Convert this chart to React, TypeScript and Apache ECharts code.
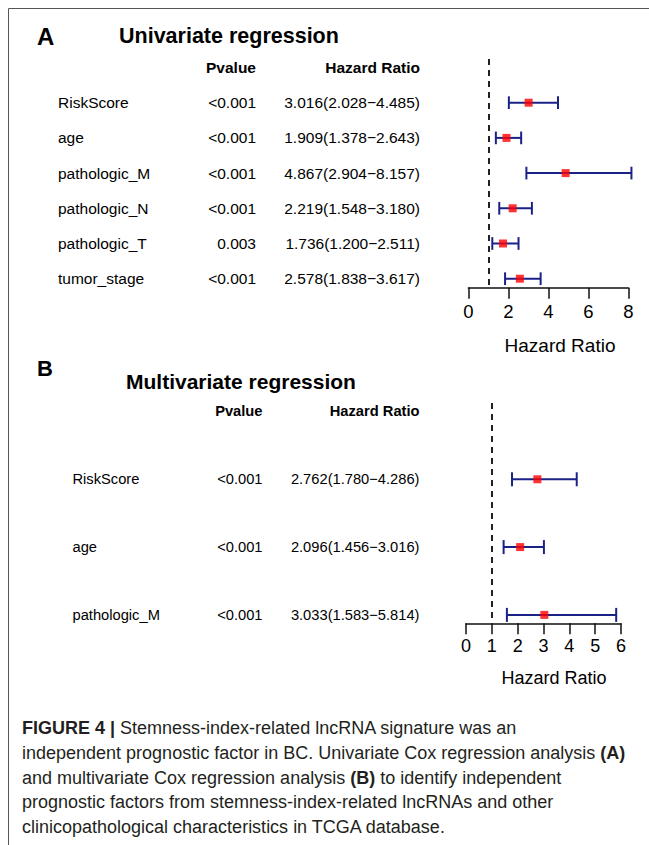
import React, { useEffect, useRef } from "react";
import * as echarts from "echarts";

// ---------- data ----------
const uniVars = ["RiskScore", "age", "pathologic_M", "pathologic_N", "pathologic_T", "tumor_stage"];
const uniP = ["<0.001", "<0.001", "<0.001", "<0.001", "0.003", "<0.001"];
const uniHR = [3.016, 1.909, 4.867, 2.219, 1.736, 2.578];
const uniLow = [2.028, 1.378, 2.904, 1.548, 1.2, 1.838];
const uniHigh = [4.485, 2.643, 8.157, 3.18, 2.511, 3.617];
const uniTicks = [0, 2, 4, 6, 8];

const multiVars = ["RiskScore", "age", "pathologic_M"];
const multiP = ["<0.001", "<0.001", "<0.001"];
const multiHR = [2.762, 2.096, 3.033];
const multiLow = [1.78, 1.456, 1.583];
const multiHigh = [4.286, 3.016, 5.814];
const multiTicks = [0, 1, 2, 3, 4, 5, 6];

const headers = ["Pvalue", "Hazard Ratio"];
const panelTitles = ["Univariate regression", "Multivariate regression"];
const panelLetters = ["A", "B"];
const axisTitle = "Hazard Ratio";
const refLine = 1;

const captionLines = [
  "{b|FIGURE 4 |} Stemness-index-related lncRNA signature was an",
  "independent prognostic factor in BC. Univariate Cox regression analysis {b|(A)}",
  "and multivariate Cox regression analysis {b|(B)} to identify independent",
  "prognostic factors from stemness-index-related lncRNAs and other",
  "clinicopathological characteristics in TCGA database.",
];

const FONT = '"Liberation Sans", Arial, Helvetica, sans-serif';
const BLUE = "#1a2288";
const RED = "#ff0000";

const hrText = (hr: number[], lo: number[], hi: number[]) =>
  hr.map((v, i) => `${v.toFixed(3)}(${lo[i].toFixed(3)}\u2212${hi[i].toFixed(3)})`);

function tableSeries(g: number, vars: string[], p: string[], hrs: string[], cols: any, fs: number) {
  const data = [[0, 0], ...vars.map((_, i) => [0, i + 1])];
  return {
    type: "custom",
    xAxisIndex: g,
    yAxisIndex: g,
    silent: true,
    clip: false,
    data,
    encode: { x: 0, y: 1 },
    renderItem: (params: any, api: any) => {
      const i = params.dataIndex;
      const y = api.coord([0, api.value(1)])[1];
      const mk = (x: number, text: string, align: string, bold: boolean) => ({
        type: "text",
        x,
        y,
        style: {
          text,
          align,
          verticalAlign: "middle",
          fontSize: fs,
          fontFamily: FONT,
          fontWeight: bold ? "bold" : "normal",
          fill: "#000",
        },
      });
      if (i === 0) {
        return {
          type: "group",
          children: [mk(cols.p, headers[0], "right", true), mk(cols.hr, headers[1], "right", true)],
        };
      }
      return {
        type: "group",
        children: [
          mk(cols.name, vars[i - 1], "left", false),
          mk(cols.p, p[i - 1], "right", false),
          mk(cols.hr, hrs[i - 1], "right", false),
        ],
      };
    },
  };
}

function barSeries(g: number, lo: number[], hi: number[], cap: number) {
  return {
    type: "custom",
    xAxisIndex: g,
    yAxisIndex: g,
    silent: true,
    data: lo.map((v, i) => [v, hi[i], i + 1]),
    encode: { x: [0, 1], y: 2 },
    z: 2,
    renderItem: (_p: any, api: any) => {
      const a = api.coord([api.value(0), api.value(2)]);
      const b = api.coord([api.value(1), api.value(2)]);
      const h = cap / 2;
      const style = { stroke: BLUE, lineWidth: 2 };
      return {
        type: "group",
        children: [
          { type: "line", shape: { x1: a[0], y1: a[1], x2: b[0], y2: b[1] }, style },
          { type: "line", shape: { x1: a[0], y1: a[1] - h, x2: a[0], y2: a[1] + h }, style },
          { type: "line", shape: { x1: b[0], y1: b[1] - h, x2: b[0], y2: b[1] + h }, style },
        ],
      };
    },
  };
}

function pointSeries(g: number, hr: number[], size: number) {
  return {
    type: "scatter",
    xAxisIndex: g,
    yAxisIndex: g,
    silent: true,
    z: 3,
    symbol: "rect",
    symbolSize: size,
    itemStyle: { color: RED },
    data: hr.map((v, i) => [v, i + 1]),
    markLine: {
      silent: true,
      symbol: ["none", "none"],
      label: { show: false },
      lineStyle: { color: "#222", width: 2, type: [6, 5] },
      data: [{ xAxis: refLine }],
    },
  };
}

function xAxisCfg(g: number, ticks: number[], fs: number, tickLen: number) {
  return {
    gridIndex: g,
    type: "value",
    min: ticks[0],
    max: ticks[ticks.length - 1],
    interval: ticks[1] - ticks[0],
    axisLine: { show: true, onZero: false, lineStyle: { color: "#111", width: 1.5 } },
    axisTick: { show: true, length: tickLen, lineStyle: { color: "#111", width: 1.5 } },
    axisLabel: { fontSize: fs, color: "#000", margin: 14, fontFamily: FONT },
    splitLine: { show: false },
  };
}

export default function App() {
  const ref = useRef<HTMLDivElement>(null);
  useEffect(() => {
    if (!ref.current) return;
    const chart = echarts.init(ref.current, undefined, { renderer: "svg" });

    const txt = (x: number, y: number, text: string, fs: number, bold: boolean, align = "left") => ({
      type: "text",
      x,
      y,
      silent: true,
      style: {
        text,
        align,
        verticalAlign: "middle",
        fontSize: fs,
        fontFamily: FONT,
        fontWeight: bold ? "bold" : "normal",
        fill: "#000",
      },
    });

    const graphics: any[] = [
      { type: "line", silent: true, shape: { x1: 8.5, y1: 8.5, x2: 649, y2: 8.5 }, style: { stroke: "#555", lineWidth: 1 } },
      { type: "line", silent: true, shape: { x1: 8.5, y1: 8.5, x2: 8.5, y2: 845 }, style: { stroke: "#555", lineWidth: 1 } },
      txt(37, 36, panelLetters[0], 24, true),
      txt(119, 36, panelTitles[0], 21.5, true),
      txt(560, 345, axisTitle, 19, false, "center"),
      txt(37, 368, panelLetters[1], 22, true),
      txt(126, 381, panelTitles[1], 21, true),
      txt(554, 677.5, axisTitle, 18, false, "center"),
    ];
    captionLines.forEach((line, i) => {
      graphics.push({
        type: "text",
        x: 22,
        y: 728 + i * 24.75,
        silent: true,
        style: {
          text: line,
          verticalAlign: "middle",
          fontSize: 18,
          fontFamily: FONT,
          fill: "#231f20",
          rich: {
            b: { fontWeight: "bold", fontSize: 18, fontFamily: FONT, fill: "#231f20" },
          },
        },
      });
    });

    chart.setOption({
      animation: false,
      backgroundColor: "#fff",
      grid: [
        { left: 468.3, right: 20.7, top: 59, height: 228.7 },
        { left: 466, right: 28, top: 403, height: 220.3 },
      ],
      xAxis: [xAxisCfg(0, uniTicks, 18.5, 11), xAxisCfg(1, multiTicks, 18, 11)],
      yAxis: [
        { gridIndex: 0, type: "value", min: -0.2415, max: 6.256, inverse: true, show: false },
        { gridIndex: 1, type: "value", min: -0.125, max: 3.124, inverse: true, show: false },
      ],
      series: [
        barSeries(0, uniLow, uniHigh, 12.7),
        pointSeries(0, uniHR, 8),
        tableSeries(0, uniVars, uniP, hrText(uniHR, uniLow, uniHigh), { name: 58, p: 256, hr: 420 }, 15.5),
        barSeries(1, multiLow, multiHigh, 14),
        pointSeries(1, multiHR, 8),
        tableSeries(1, multiVars, multiP, hrText(multiHR, multiLow, multiHigh), { name: 72.5, p: 262.5, hr: 419.5 }, 14.7),
      ],
      graphic: graphics,
    });
    return () => chart.dispose();
  }, []);
  return (
    <div
      ref={ref}
      style={{ position: "absolute", left: 0, top: 0, width: 649, height: 845, background: "#fff" }}
    />
  );
}
